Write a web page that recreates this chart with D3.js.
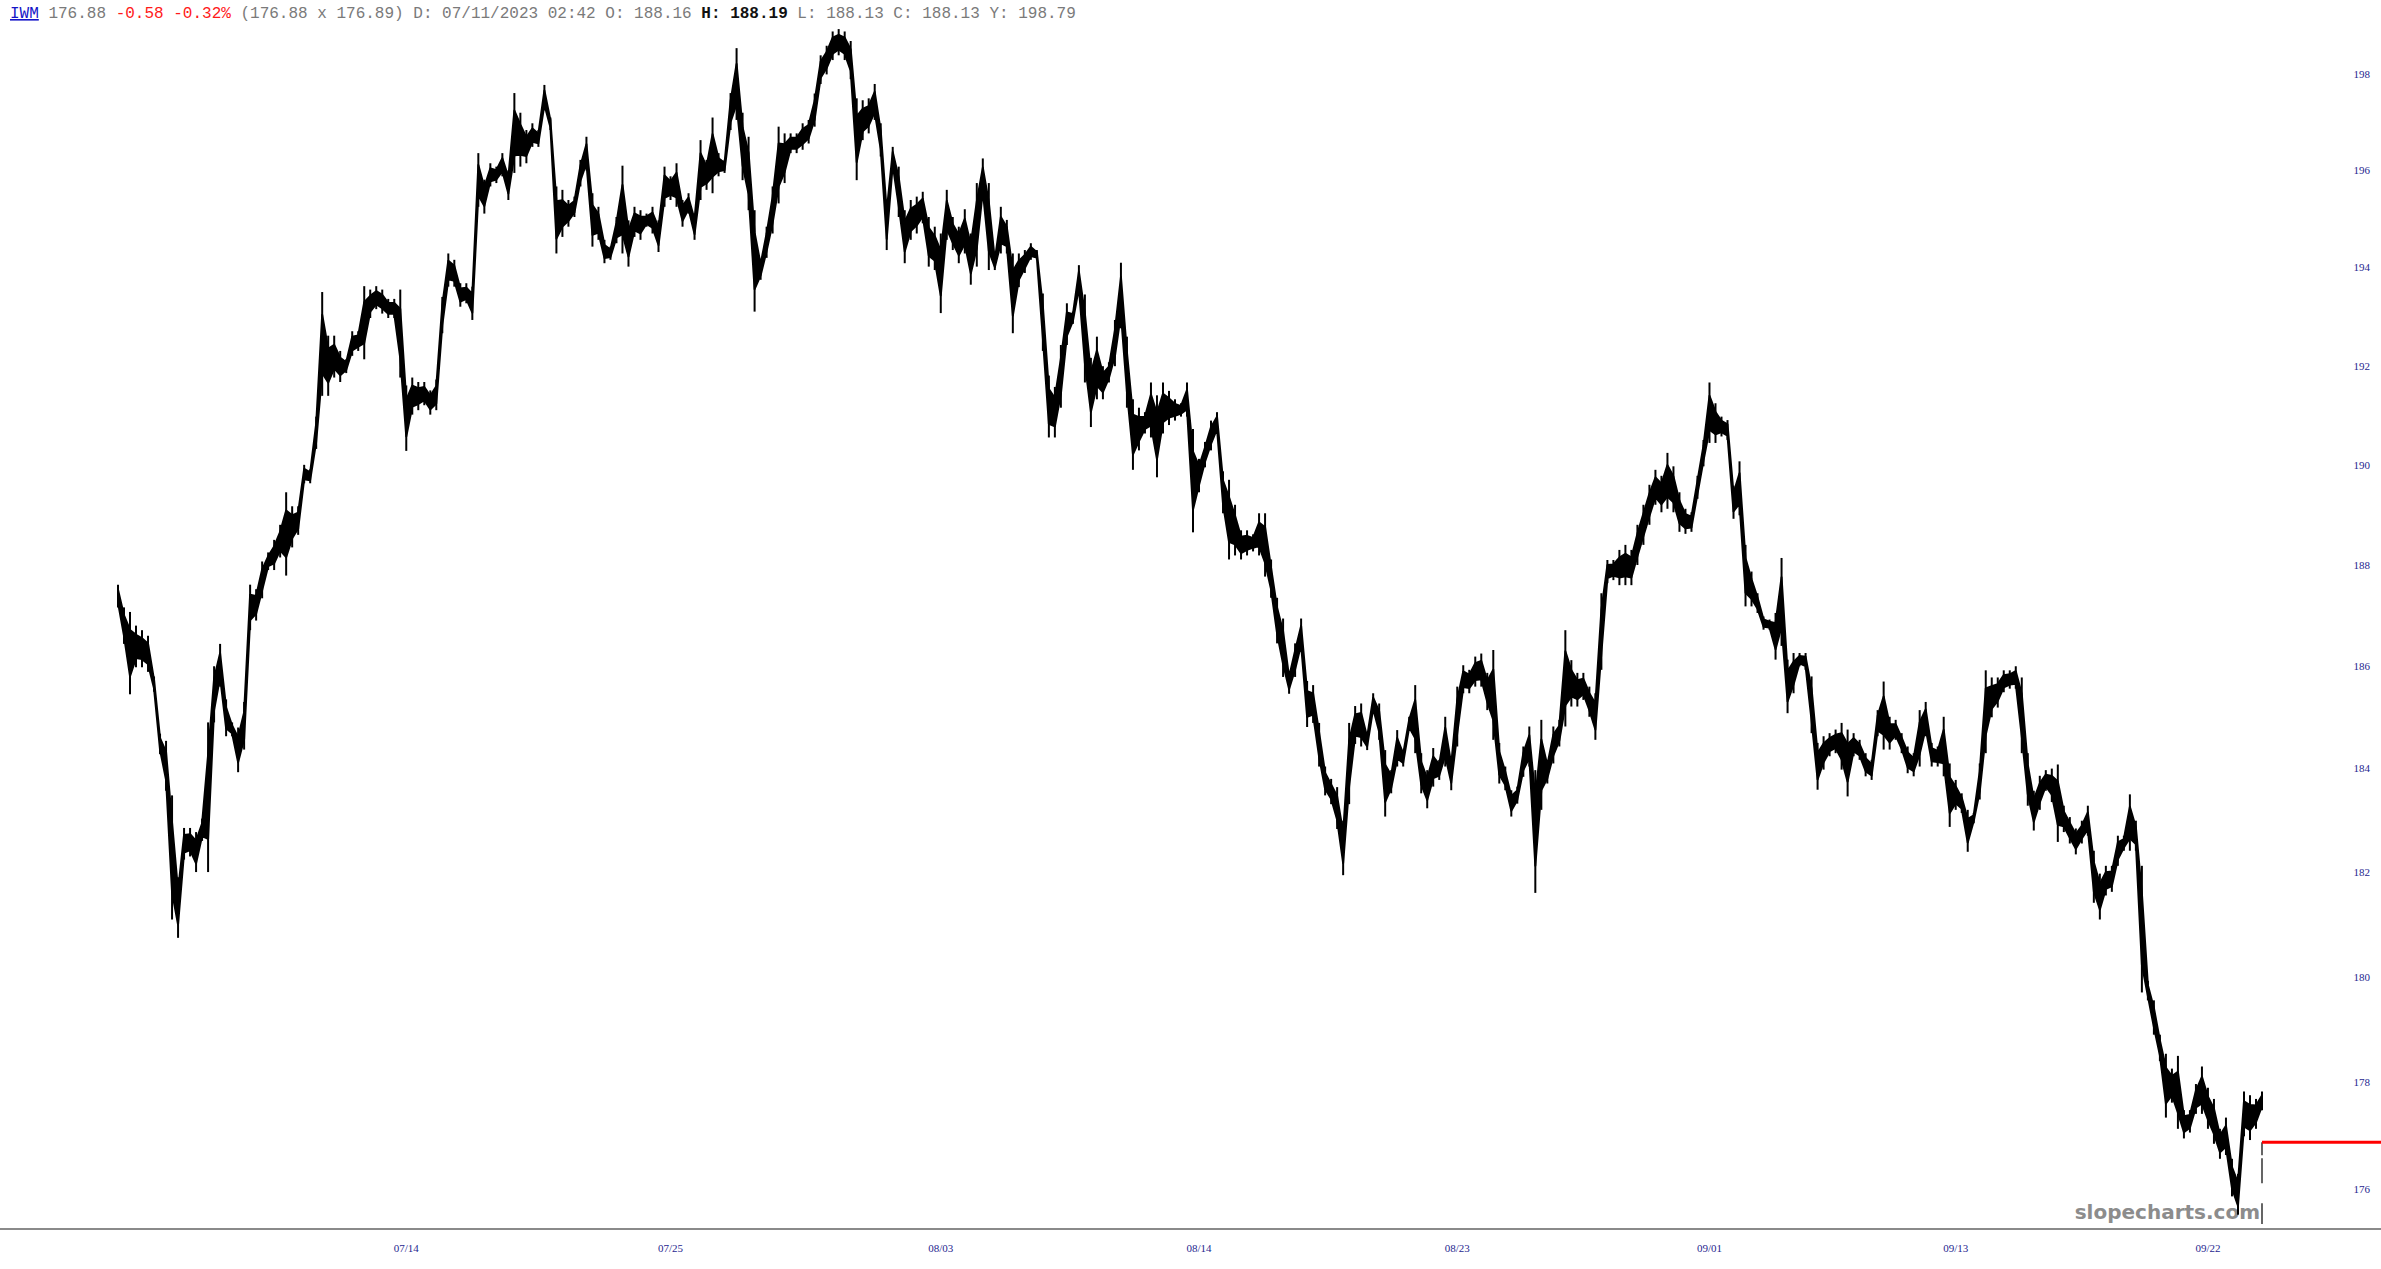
<!DOCTYPE html>
<html>
<head>
<meta charset="utf-8">
<script src="https://cdn.jsdelivr.net/npm/d3@7"></script>
<style>
    body { margin: 0; background: #fff; }
    svg { display: block; }
</style>
</head>
<body>
<script>

    // bar highs / lows, one bar every ~6px
    var highs = [
        187.61, 187.16, 187.07, 186.80, 186.71, 186.60, 185.80, 184.68, 184.54, 183.48,
        181.90, 182.85, 182.85, 182.77, 183.03, 184.90, 186.00, 186.44, 185.35, 184.90,
        184.80, 185.30, 187.61, 187.52, 188.07, 188.25, 188.50, 188.80, 189.45, 189.17,
        189.17, 190.00, 189.91, 190.97, 193.50, 192.61, 192.61, 192.30, 192.13, 192.70,
        192.70, 193.62, 193.55, 193.62, 193.55, 193.36, 193.36, 193.55, 191.60, 191.76,
        191.67, 191.67, 191.50, 191.72, 193.40, 194.29, 194.16, 193.68, 193.68, 193.61,
        196.36, 195.81, 196.15, 196.08, 196.36, 196.00, 197.61, 197.20, 196.84, 196.98,
        196.84, 197.78, 197.10, 195.67, 195.60, 195.39, 195.46, 196.22, 196.70, 195.53,
        195.25, 194.57, 194.43, 195.04, 196.10, 194.97, 195.25, 195.18, 195.11, 195.25,
        194.97, 196.08, 195.88, 196.15, 195.39, 195.53, 195.11, 196.63, 196.22, 197.10,
        196.36, 196.22, 197.61, 198.55, 197.20, 196.70, 195.18, 194.16, 194.84, 195.67,
        196.91, 196.77, 196.77, 196.77, 196.98, 197.05, 197.60, 198.40, 198.60, 198.90,
        198.95, 198.90, 198.70, 197.50, 197.46, 197.50, 197.80, 196.98, 195.39, 196.49,
        196.08, 195.18, 195.39, 195.46, 195.56, 195.04, 194.84, 194.70, 195.60, 195.04,
        194.84, 195.20, 194.70, 195.74, 196.25, 195.74, 194.22, 195.25, 194.98, 194.29,
        194.29, 194.36, 194.50, 194.36, 193.47, 191.80, 191.57, 192.42, 193.27, 193.10,
        194.05, 193.45, 192.16, 192.59, 191.99, 192.07, 192.93, 194.10, 192.59, 191.32,
        191.15, 191.06, 191.66, 191.40, 191.66, 191.49, 191.32, 191.24, 191.66, 190.72,
        190.12, 190.46, 190.89, 191.06, 189.87, 189.70, 189.20, 188.69, 188.69, 188.61,
        189.03, 189.03, 188.11, 187.35, 186.94, 185.88, 186.45, 186.94, 185.71, 185.63,
        184.89, 184.04, 183.80, 183.64, 182.99, 184.89, 185.22, 185.27, 184.69, 185.47,
        185.27, 184.36, 183.97, 184.75, 184.36, 185.01, 185.63, 184.30, 183.97, 184.40,
        184.17, 185.01, 184.23, 185.60, 186.02, 185.93, 186.19, 186.25, 185.87, 186.32,
        184.50, 184.04, 183.58, 183.65, 184.43, 184.82, 183.97, 184.95, 184.17, 184.82,
        184.95, 186.71, 186.12, 185.87, 185.87, 185.60, 185.47, 187.44, 188.10, 188.10,
        188.30, 188.40, 188.30, 188.80, 189.20, 189.60, 189.90, 189.78, 190.24, 189.97,
        189.45, 189.12, 189.05, 189.78, 190.50, 191.66, 191.24, 190.97, 190.90, 189.58,
        190.07, 188.40, 187.87, 187.44, 186.98, 186.92, 187.05, 188.14, 186.13, 186.26,
        186.26, 186.26, 185.80, 184.50, 184.63, 184.69, 184.76, 184.89, 184.76, 184.69,
        184.56, 184.30, 184.17, 185.14, 185.70, 185.01, 184.95, 184.69, 184.43, 184.30,
        185.14, 185.30, 184.50, 184.43, 185.01, 184.10, 183.78, 183.52, 183.20, 183.14,
        184.10, 185.92, 185.78, 185.78, 185.92, 185.92, 186.00, 185.78, 184.30, 183.57,
        183.86, 183.97, 184.00, 184.08, 183.28, 183.06, 182.84, 182.99, 183.28, 182.41,
        181.97, 182.12, 182.12, 182.70, 182.70, 183.50, 182.99, 182.12, 179.92, 179.55,
        178.90, 178.54, 178.26, 178.50, 177.48, 177.48, 177.97, 178.30, 177.90, 177.69,
        177.13, 177.34, 176.57, 176.29, 177.83, 177.76, 177.69, 177.83
    ];

    var lows = [
        187.16, 186.44, 185.45, 185.98, 185.98, 185.89, 185.50, 184.28, 183.57, 181.09,
        180.74, 182.24, 182.30, 182.00, 182.60, 182.00, 184.90, 185.60, 184.63, 184.63,
        183.93, 184.37, 186.71, 186.90, 187.34, 187.90, 187.90, 188.15, 187.79, 188.35,
        188.60, 189.63, 189.63, 190.32, 191.39, 191.39, 191.76, 191.67, 191.85, 192.20,
        192.30, 192.13, 192.97, 193.15, 193.06, 192.97, 192.97, 191.76, 190.28, 191.01,
        191.10, 191.20, 191.01, 191.10, 192.66, 193.61, 193.61, 193.20, 193.27, 192.93,
        195.25, 195.11, 195.67, 195.74, 195.88, 195.39, 195.95, 196.08, 196.15, 196.49,
        196.49, 197.25, 196.84, 194.29, 194.63, 194.84, 195.04, 195.67, 196.00, 194.43,
        194.57, 194.09, 194.16, 194.50, 194.29, 194.02, 194.63, 194.57, 194.84, 194.70,
        194.32, 195.25, 195.39, 195.25, 194.84, 195.11, 194.57, 195.39, 195.60, 195.53,
        195.88, 195.95, 196.84, 197.05, 195.80, 195.18, 193.10, 193.75, 194.20, 194.70,
        195.32, 195.74, 196.36, 196.36, 196.43, 196.56, 196.91, 197.80, 198.00, 198.30,
        198.40, 198.30, 197.90, 195.80, 196.63, 196.77, 197.05, 196.29, 194.36, 196.01,
        195.04, 194.09, 194.57, 194.70, 194.91, 194.02, 193.95, 193.07, 194.57, 194.36,
        194.09, 194.29, 193.65, 194.02, 195.39, 193.95, 193.95, 194.29, 194.29, 192.66,
        193.60, 193.89, 194.16, 194.16, 192.30, 190.55, 190.55, 191.15, 192.42, 192.85,
        193.45, 191.66, 190.76, 191.32, 191.32, 191.66, 191.99, 192.76, 191.15, 189.90,
        190.29, 190.63, 190.55, 189.75, 190.63, 190.80, 190.89, 190.97, 190.97, 188.65,
        189.45, 189.95, 190.29, 190.63, 189.03, 188.11, 188.19, 188.11, 188.19, 188.27,
        188.19, 187.77, 187.35, 186.45, 185.79, 185.46, 185.79, 186.28, 184.81, 184.89,
        184.04, 183.48, 183.31, 182.83, 181.94, 183.31, 184.48, 184.43, 184.36, 185.08,
        184.56, 183.07, 183.52, 184.04, 184.04, 184.75, 184.30, 183.52, 183.23, 183.65,
        183.78, 184.04, 183.58, 184.43, 185.47, 185.47, 185.60, 185.60, 185.14, 184.56,
        183.71, 183.58, 183.07, 183.32, 183.84, 184.04, 181.60, 183.20, 183.71, 184.10,
        184.43, 184.82, 185.21, 185.21, 185.34, 185.01, 184.56, 185.93, 187.64, 187.70,
        187.60, 187.60, 187.60, 188.00, 188.40, 188.80, 189.20, 189.05, 189.12, 189.05,
        188.66, 188.62, 188.66, 189.32, 189.97, 190.44, 190.44, 190.57, 190.50, 188.92,
        188.99, 187.18, 187.18, 187.05, 186.72, 186.72, 186.13, 186.40, 185.08, 185.47,
        186.00, 185.93, 184.69, 183.59, 183.98, 184.24, 184.30, 183.98, 183.46, 184.24,
        184.17, 183.85, 183.78, 184.63, 184.37, 184.37, 184.56, 184.30, 183.91, 183.85,
        184.04, 184.63, 184.04, 184.04, 183.85, 182.87, 183.20, 183.14, 182.39, 182.94,
        183.40, 184.30, 185.00, 185.19, 185.49, 185.56, 185.56, 184.30, 183.28, 182.80,
        183.20, 183.57, 183.35, 182.58, 182.77, 182.55, 182.34, 182.55, 182.70, 181.41,
        181.09, 181.55, 181.62, 182.12, 182.41, 182.41, 182.41, 179.70, 179.55, 178.90,
        178.40, 177.34, 177.62, 177.13, 176.95, 177.06, 177.41, 177.41, 177.13, 176.85,
        176.57, 176.64, 175.87, 175.53, 176.99, 176.92, 177.13, 177.48
    ];

    var lastPrice = 176.88;
    var priceTicks = [176, 178, 180, 182, 184, 186, 188, 190, 192, 194, 196, 198];
    var dateTicks = [48, 92, 137, 180, 223, 265, 306, 348];   // bar index of each label
    var dateLabels = ["07/14", "07/25", "08/03", "08/14", "08/23", "09/01", "09/13", "09/22"];

    var header = [
        { text: "IWM", color: "#1515c8", link: true },
        { text: " 176.88 ", color: "#7a7a7a" },
        { text: "-0.58 -0.32%", color: "#ff1a1a" },
        { text: " (176.88 x 176.89) D: 07/11/2023 02:42 O: 188.16 ", color: "#7a7a7a" },
        { text: "H: 188.19", color: "#111", bold: true },
        { text: " L: 188.13 C: 188.13 Y: 198.79", color: "#7a7a7a" }
    ];

    var width = 2381,
        height = 1269;

    var svg = d3.select("body").append("svg")
        .attr("width", width)
        .attr("height", height);

    var x = d3.scaleLinear()
        .domain([0, highs.length - 1])
        .range([118, 2262]);

    var y = d3.scaleLog()
        .domain([176, 198])
        .range([1189.4, 74.4]);

    // header line
    var head = svg.append("text")
        .attr("x", 10)
        .attr("y", 18)
        .style("font-family", "'Liberation Mono', 'DejaVu Sans Mono', monospace")
        .style("font-size", "16px")
        .style("white-space", "pre");

    head.selectAll("tspan")
        .data(header)
        .enter().append("tspan")
        .text(function (d) { return d.text; })
        .attr("fill", function (d) { return d.color; })
        .style("font-weight", function (d) { return d.bold ? "bold" : "normal"; })
        .style("text-decoration", function (d) { return d.link ? "underline" : "none"; });

    // watermark sits under the bars
    svg.append("text")
        .attr("x", 2260)
        .attr("y", 1219)
        .attr("text-anchor", "end")
        .attr("fill", "#8c8c8c")
        .style("font-family", "'DejaVu Sans', Verdana, sans-serif")
        .style("font-weight", "bold")
        .style("font-size", "20px")
        .text("slopecharts.com");

    // body of the price trace: the inner part of each bar's range
    var inner = 0.22;
    var band = d3.area()
        .x(function (d, i) { return x(i); })
        .y0(function (d, i) { return y(lows[i] + inner * (highs[i] - lows[i])); })
        .y1(function (d, i) { return y(highs[i] - inner * (highs[i] - lows[i])); });

    svg.append("path")
        .datum(highs)
        .attr("d", band)
        .attr("fill", "#000")
        .attr("stroke", "#000")
        .attr("stroke-width", 2)
        .attr("stroke-linejoin", "round");

    // thin high-low wicks
    svg.append("g")
        .attr("class", "bars")
        .selectAll("line")
        .data(highs)
        .enter().append("line")
        .attr("x1", function (d, i) { return x(i); })
        .attr("x2", function (d, i) { return x(i); })
        .attr("y1", function (d, i) { return y(lows[i]); })
        .attr("y2", function (d) { return y(d); })
        .attr("stroke", "#000")
        .attr("stroke-width", 2);

    // last price marker
    svg.append("line")
        .attr("x1", x(highs.length - 1)).attr("x2", x(highs.length - 1))
        .attr("y1", y(lastPrice)).attr("y2", 1224)
        .attr("stroke", "#000")
        .attr("stroke-width", 1.2)
        .attr("stroke-dasharray", "13 3 25 20 22");

    svg.append("line")
        .attr("x1", x(highs.length - 1)).attr("x2", width)
        .attr("y1", y(lastPrice)).attr("y2", y(lastPrice))
        .attr("stroke", "#ff0000")
        .attr("stroke-width", 3);

    // y axis labels on the right
    svg.append("g")
        .attr("class", "y axis")
        .selectAll("text")
        .data(priceTicks)
        .enter().append("text")
        .attr("x", 2370)
        .attr("y", function (d) { return y(d); })
        .attr("dy", "0.35em")
        .attr("text-anchor", "end")
        .attr("fill", "#1f1f8f")
        .style("font-family", "'Liberation Serif', 'Times New Roman', serif")
        .style("font-size", "11px")
        .text(function (d) { return d; });

    // x axis
    svg.append("line")
        .attr("x1", 0).attr("x2", width)
        .attr("y1", 1229).attr("y2", 1229)
        .attr("stroke", "#8a8a8a")
        .attr("stroke-width", 2);

    svg.append("g")
        .attr("class", "x axis")
        .selectAll("text")
        .data(dateTicks)
        .enter().append("text")
        .attr("x", function (d) { return x(d); })
        .attr("y", 1252)
        .attr("text-anchor", "middle")
        .attr("fill", "#1f1f8f")
        .style("font-family", "'Liberation Serif', 'Times New Roman', serif")
        .style("font-size", "11px")
        .text(function (d, i) { return dateLabels[i]; });

</script>
</body>
</html>
